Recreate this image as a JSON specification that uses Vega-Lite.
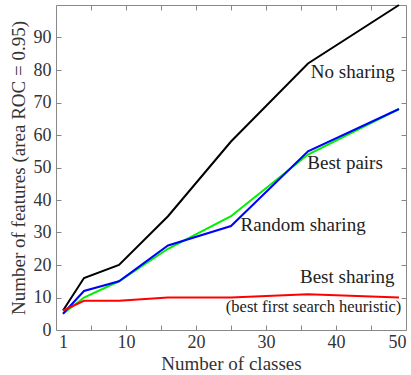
{
  "$schema": "https://vega.github.io/schema/vega-lite/v6.json",
  "width": 350,
  "height": 325,
  "autosize": "none",
  "padding": {"left": 56, "top": 5, "right": 5, "bottom": 45},
  "config": {
    "view": {"stroke": "#888888", "strokeWidth": 1},
    "font": "Liberation Serif",
    "axis": {"labelFont": "Liberation Serif", "titleFont": "Liberation Serif", "labelFontSize": 18, "titleFontSize": 19, "labelColor": "#333333", "titleColor": "#333333", "titleFontWeight": "normal", "grid": false, "domain": false, "tickColor": "#888888"}
  },
  "datasets": {
    "series": [
      {"classes": 1, "features": 6, "method": "No sharing"},
      {"classes": 4, "features": 16, "method": "No sharing"},
      {"classes": 9, "features": 20, "method": "No sharing"},
      {"classes": 16, "features": 35, "method": "No sharing"},
      {"classes": 25, "features": 58, "method": "No sharing"},
      {"classes": 36, "features": 82, "method": "No sharing"},
      {"classes": 49, "features": 100, "method": "No sharing"},
      {"classes": 1, "features": 5, "method": "Random sharing"},
      {"classes": 4, "features": 10, "method": "Random sharing"},
      {"classes": 9, "features": 15, "method": "Random sharing"},
      {"classes": 16, "features": 25, "method": "Random sharing"},
      {"classes": 25, "features": 35, "method": "Random sharing"},
      {"classes": 36, "features": 54, "method": "Random sharing"},
      {"classes": 49, "features": 68, "method": "Random sharing"},
      {"classes": 1, "features": 5, "method": "Best pairs"},
      {"classes": 4, "features": 12, "method": "Best pairs"},
      {"classes": 9, "features": 15, "method": "Best pairs"},
      {"classes": 16, "features": 26, "method": "Best pairs"},
      {"classes": 25, "features": 32, "method": "Best pairs"},
      {"classes": 36, "features": 55, "method": "Best pairs"},
      {"classes": 49, "features": 68, "method": "Best pairs"},
      {"classes": 1, "features": 6, "method": "Best sharing"},
      {"classes": 4, "features": 9, "method": "Best sharing"},
      {"classes": 9, "features": 9, "method": "Best sharing"},
      {"classes": 16, "features": 10, "method": "Best sharing"},
      {"classes": 25, "features": 10, "method": "Best sharing"},
      {"classes": 36, "features": 11, "method": "Best sharing"},
      {"classes": 49, "features": 10, "method": "Best sharing"}
    ],
    "labels": [
      {"classes": 42.4, "features": 79.4, "label": "No sharing"},
      {"classes": 41.3, "features": 51.3, "label": "Best pairs"},
      {"classes": 35.3, "features": 32.3, "label": "Random sharing"},
      {"classes": 41.6, "features": 16.4, "label": "Best sharing"}
    ],
    "notes": [
      {"classes": 36.8, "features": 7.2, "label": "(best first search heuristic)"}
    ]
  },
  "layer": [
    {
      "data": {"name": "series"},
      "mark": {"type": "line", "strokeWidth": 2},
      "encoding": {
        "x": {"field": "classes", "type": "quantitative", "scale": {"domain": [0, 50], "nice": false, "zero": false},
              "axis": {"orient": "bottom", "values": [1, 10, 20, 30, 40, 50], "ticks": false, "labelPadding": 3, "title": "Number of classes", "titlePadding": 3}},
        "y": {"field": "features", "type": "quantitative", "scale": {"domain": [0, 100], "nice": false},
              "axis": {"orient": "left", "values": [0, 10, 20, 30, 40, 50, 60, 70, 80, 90], "ticks": false, "labelPadding": 5, "title": "Number of features (area ROC = 0.95)", "titlePadding": 5}},
        "color": {"field": "method", "type": "nominal", "legend": null,
                  "scale": {"domain": ["No sharing", "Random sharing", "Best pairs", "Best sharing"], "range": ["#000000", "#00ee00", "#0000ff", "#ff0000"]}}
      }
    },
    {
      "data": {"name": "labels"},
      "mark": {"type": "text", "font": "Liberation Serif", "fontSize": 19, "color": "#222222", "align": "center", "baseline": "middle"},
      "encoding": {
        "x": {"field": "classes", "type": "quantitative", "axis": {"orient": "bottom", "values": [5, 10, 15, 20, 25, 30, 35, 40, 45], "tickSize": -5, "labels": false, "title": null}},
        "y": {"field": "features", "type": "quantitative", "axis": {"orient": "left", "values": [10, 20, 30, 40, 50, 60, 70, 80, 90], "tickSize": -5, "labels": false, "title": null}},
        "text": {"field": "label", "type": "nominal"}
      }
    },
    {
      "data": {"name": "notes"},
      "mark": {"type": "text", "font": "Liberation Serif", "fontSize": 16.5, "color": "#222222", "align": "center", "baseline": "middle"},
      "encoding": {
        "x": {"field": "classes", "type": "quantitative", "axis": {"orient": "top", "values": [5, 10, 15, 20, 25, 30, 35, 40, 45], "tickSize": -5, "labels": false, "title": null}},
        "y": {"field": "features", "type": "quantitative", "axis": {"orient": "right", "values": [10, 20, 30, 40, 50, 60, 70, 80, 90], "tickSize": -5, "labels": false, "title": null}},
        "text": {"field": "label", "type": "nominal"}
      }
    }
  ],
  "resolve": {"axis": {"x": "independent", "y": "independent"}}
}
